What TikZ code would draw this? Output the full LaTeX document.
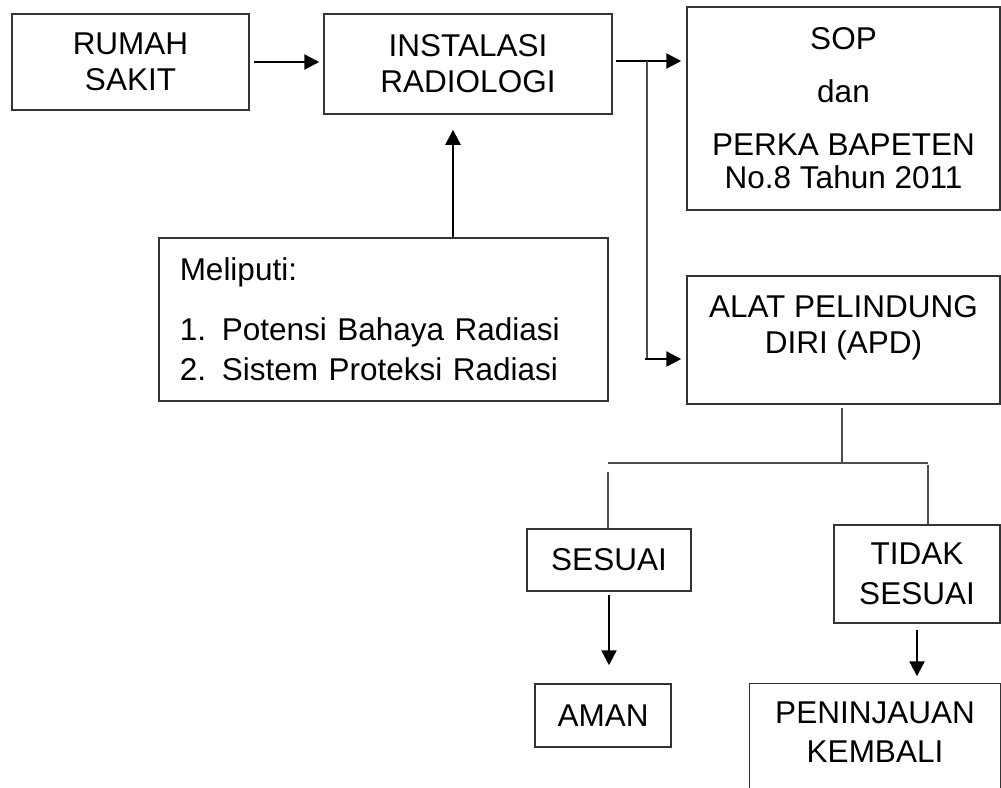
\documentclass[tikz,border=0pt]{standalone}
\usepackage{fontspec}
\setmainfont{Liberation Sans}
\usetikzlibrary{arrows.meta}
\begin{document}
\begin{tikzpicture}[x=1pt,y=-1pt,
  box/.style={draw=black!80, line width=1.5pt, inner sep=0pt, align=center, font=\fontsize{31.5}{36}\selectfont},
  boxline/.style={draw=black!80, line width=1.5pt},
  arr/.style={line width=2.4pt, -{Triangle[length=15pt,width=15pt]}},
  ln/.style={draw=black!70, line width=1.3pt}]
\fill[white] (0,0) rectangle (1001,787);
\useasboundingbox (0,0) rectangle (1001,787);
% boxes
\node[box, minimum width=237pt, minimum height=96pt] (rs) at (130.5,62) {RUMAH\\SAKIT};
\node[box, minimum width=288pt, minimum height=100pt] (ir) at (468,64) {INSTALASI\\RADIOLOGI};
\node[box, minimum width=313pt, minimum height=203pt, font=\fontsize{31.5}{33}\selectfont] (sop) at (843.5,108.5) {SOP\\[20pt]dan\\[20pt]PERKA BAPETEN\\No.8 Tahun 2011};
\node[box, anchor=north west, text width=407pt, inner xsep=21pt, minimum height=163pt, align=left, font=\fontsize{31.5}{40}\selectfont] (mel) at (158,237) {Meliputi:\\[20pt]1. Potensi Bahaya Radiasi\\2. Sistem Proteksi Radiasi};
\node[box, minimum width=313pt, minimum height=128pt] (apd) at (843.5,340) {ALAT PELINDUNG\\DIRI (APD)\\[-5pt]\mbox{}};
\node[box, minimum width=164pt, minimum height=62pt] (ses) at (609,560) {SESUAI};
\node[box, minimum width=166pt, minimum height=98pt, font=\fontsize{31.5}{40}\selectfont] (tdk) at (917,574) {TIDAK\\SESUAI};
\node[box, minimum width=136pt, minimum height=63pt] (aman) at (603,715.5) {AMAN};
\node[box, draw=none, minimum width=250pt, minimum height=97pt, font=\fontsize{31.5}{39}\selectfont] (pk) at (875,732.5) {PENINJAUAN\\KEMBALI};
\draw[boxline] ([yshift=-20pt]pk.south west) -- (pk.north west) -- (pk.north east) -- ([yshift=-20pt]pk.south east);
% junction coordinates
\coordinate (j) at (647,61);
\coordinate (k) at (647,359);
\coordinate (m) at (453,237);
\coordinate (t) at (842,463);
\coordinate (tl) at (608,463);
\coordinate (tr) at (928,463);
% connectors
\draw[arr, shorten <=4pt, shorten >=4pt] (rs.east) -- (rs.east -| ir.west);
\draw[arr, shorten <=3pt, shorten >=5pt] (ir.east |- j) -- (j -| sop.west);
\draw[ln] (j) -- (k);
\draw[arr, shorten <=-2pt, shorten >=5pt] (k) -- (k -| apd.west);
\draw[arr, shorten >=15pt] (m) -- (m |- ir.south);
\draw[ln, shorten <=3pt] (apd.south -| t) -- (t);
\draw[ln] (tl) -- (tr);
\draw[ln, shorten <=9pt] (tl) -- (tl |- ses.north);
\draw[ln, shorten <=2pt] (tr) -- (tr |- tdk.north);
\draw[arr, shorten <=3pt, shorten >=18pt] (ses.south) -- (ses.south |- aman.north);
\draw[arr, shorten <=6pt, shorten >=7pt] (tdk.south) -- (tdk.south |- pk.north);
\end{tikzpicture}
\end{document}
